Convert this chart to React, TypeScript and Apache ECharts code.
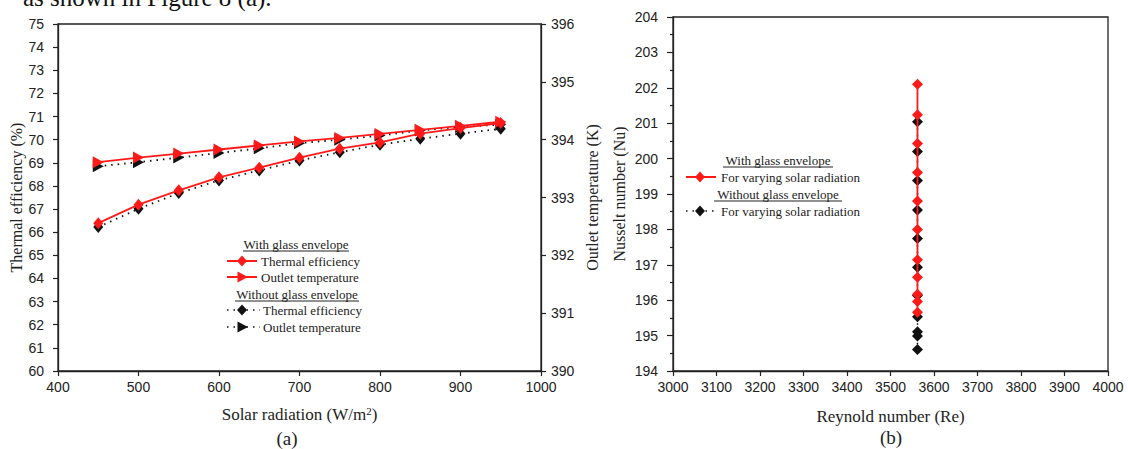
import React, { useEffect, useRef } from "react";
import * as echarts from "echarts";

// ---- data ----
const radiation = [450, 500, 550, 600, 650, 700, 750, 800, 850, 900, 950];
const effWith = [66.39, 67.19, 67.81, 68.37, 68.79, 69.22, 69.61, 69.88, 70.26, 70.5, 70.72];
const effWithout = [66.22, 67.01, 67.69, 68.24, 68.67, 69.1, 69.46, 69.78, 70.04, 70.26, 70.47];
const tempWith = [393.61, 393.69, 393.76, 393.83, 393.9, 393.97, 394.03, 394.1, 394.17, 394.24, 394.31];
const tempWithout = [393.54, 393.61, 393.69, 393.77, 393.85, 393.94, 394.0, 394.07, 394.16, 394.22, 394.26];
const reynoldsValue = 3562;
const nuWith = [202.1, 201.24, 200.43, 199.61, 198.8, 198.0, 197.14, 196.65, 196.17, 195.96, 195.66];
const nuWithout = [201.04, 200.2, 199.38, 198.55, 197.74, 196.93, 196.13, 195.53, 195.11, 194.99, 194.61];

const SERIF = "Liberation Serif";
const SANS = "Liberation Sans";
const RED = "#ff1a1a";
const BLACK = "#111";
const AX = "#222";

function diamond(x: number, y: number, fill: string) {
  return {
    type: "polygon",
    shape: { points: [[x, y - 5.5], [x + 5, y], [x, y + 5.5], [x - 5, y]] },
    style: { fill },
    z: 10,
  };
}
function triRight(x: number, y: number, fill: string) {
  return {
    type: "polygon",
    shape: { points: [[x - 4.5, y - 5.5], [x + 6, y], [x - 4.5, y + 5.5]] },
    style: { fill },
    z: 10,
  };
}
function lineEl(x1: number, x2: number, y: number, color: string, dotted: boolean) {
  return {
    type: "line",
    shape: { x1, y1: y, x2, y2: y },
    style: { stroke: color, lineWidth: dotted ? 1.5 : 2, lineDash: dotted ? [1.5, 5] : null },
    z: 9,
  };
}
function txt(text: string, x: number, y: number, align: string, size = 13) {
  return {
    type: "text",
    x,
    y,
    style: { text, fontSize: size, fontFamily: SERIF, fill: "#222", align, verticalAlign: "middle" },
    z: 10,
  };
}
function heading(text: string, cx: number, y: number, x1: number, x2: number) {
  return [
    txt(text, cx, y, "center"),
    { type: "line", shape: { x1, y1: y + 7, x2, y2: y + 7 }, style: { stroke: "#222", lineWidth: 1 }, z: 10 },
  ];
}

const plain = (v: number) => String(v);

function valueAxisBase(extra: any) {
  return {
    type: "value",
    axisLine: { show: true, onZero: false, lineStyle: { color: AX, width: 1.3 } },
    axisTick: { show: true, inside: false, length: 5, lineStyle: { color: AX, width: 1.2 } },
    splitLine: { show: false },
    ...extra,
  };
}

export default function App() {
  const ref = useRef<HTMLDivElement>(null);
  useEffect(() => {
    if (!ref.current) return;
    const chart = echarts.init(ref.current, undefined, { renderer: "svg" });
    const pairs = (xs: number[], ys: number[]) => xs.map((x, i) => [x, ys[i]]);
    const reSeries = (ys: number[]) => ys.map((y) => [reynoldsValue, y]);
    const lbl = (margin: number) => ({ color: "#222", fontFamily: SANS, fontSize: 14, margin, formatter: plain });

    const option: any = {
      animation: false,
      backgroundColor: "#ffffff",
      grid: [
        { left: 58, top: 24, width: 483, height: 347, show: true, borderColor: AX, borderWidth: 1.3, backgroundColor: "transparent" },
        { left: 673, top: 17, width: 435, height: 354, show: true, borderColor: AX, borderWidth: 1.3, backgroundColor: "transparent" },
      ],
      xAxis: [
        valueAxisBase({
          gridIndex: 0, min: 400, max: 1000, interval: 100,
          axisLabel: lbl(9),
          name: "Solar radiation (W/m{sup|2})",
          nameLocation: "middle", nameGap: 34,
          nameTextStyle: {
            fontFamily: SERIF, fontSize: 17, color: "#222",
            rich: { sup: { fontFamily: SERIF, fontSize: 11, verticalAlign: "top", padding: [0, 0, 8, 0], color: "#222" } },
          },
        }),
        valueAxisBase({
          gridIndex: 1, min: 3000, max: 4000, interval: 100,
          axisLabel: lbl(9),
          name: "Reynold number (Re)",
          nameLocation: "middle", nameGap: 37,
          nameTextStyle: { fontFamily: SERIF, fontSize: 17, color: "#222" },
        }),
      ],
      yAxis: [
        valueAxisBase({
          gridIndex: 0, min: 60, max: 75, interval: 1, position: "left",
          axisLabel: lbl(14),
          name: "Thermal efficiency (%)",
          nameLocation: "middle", nameGap: 33,
          nameTextStyle: { fontFamily: SERIF, fontSize: 16, color: "#222" },
        }),
        valueAxisBase({
          gridIndex: 0, min: 390, max: 396, interval: 1, position: "right",
          axisLabel: lbl(10),
          name: "Outlet temperature (K)",
          nameLocation: "middle", nameGap: 43, nameRotate: 90,
          nameTextStyle: { fontFamily: SERIF, fontSize: 16, color: "#222" },
        }),
        valueAxisBase({
          gridIndex: 1, min: 194, max: 204, interval: 1, position: "left",
          axisTick: { show: true, inside: false, length: 6, lineStyle: { color: AX, width: 1.2 } },
          minorTick: { show: true, splitNumber: 2, length: 3, lineStyle: { color: AX, width: 1.2 } },
          axisLabel: lbl(15),
          name: "Nusselt number (Nu)",
          nameLocation: "middle", nameGap: 46,
          nameTextStyle: { fontFamily: SERIF, fontSize: 16, color: "#222" },
        }),
      ],
      series: [
        {
          type: "line", xAxisIndex: 0, yAxisIndex: 0, data: pairs(radiation, effWithout),
          symbol: "diamond", symbolSize: [10, 12],
          itemStyle: { color: BLACK }, lineStyle: { color: BLACK, width: 1.8, type: [1.5, 5] }, z: 2,
        },
        {
          type: "line", xAxisIndex: 0, yAxisIndex: 1, data: pairs(radiation, tempWithout),
          symbol: "triangle", symbolRotate: -90, symbolSize: [12, 11],
          itemStyle: { color: BLACK }, lineStyle: { color: BLACK, width: 1.8, type: [1.5, 5] }, z: 2,
        },
        {
          type: "line", xAxisIndex: 0, yAxisIndex: 0, data: pairs(radiation, effWith),
          symbol: "diamond", symbolSize: [10, 12],
          itemStyle: { color: RED }, lineStyle: { color: RED, width: 1.8 }, z: 3,
        },
        {
          type: "line", xAxisIndex: 0, yAxisIndex: 1, data: pairs(radiation, tempWith),
          symbol: "triangle", symbolRotate: -90, symbolSize: [12, 11],
          itemStyle: { color: RED }, lineStyle: { color: RED, width: 1.8 }, z: 3,
        },
        {
          type: "line", xAxisIndex: 1, yAxisIndex: 2, data: reSeries(nuWithout),
          symbol: "diamond", symbolSize: [11, 11],
          itemStyle: { color: BLACK }, lineStyle: { color: BLACK, width: 1.5, type: [1.5, 5] }, z: 2,
        },
        {
          type: "line", xAxisIndex: 1, yAxisIndex: 2, data: reSeries(nuWith),
          symbol: "diamond", symbolSize: [11, 11],
          itemStyle: { color: RED }, lineStyle: { color: RED, width: 1.8 }, z: 3,
        },
      ],
      graphic: [
        {
          type: "text", x: 23, y: -3,
          style: { text: "as shown in Figure 8 (a).", fontSize: 25, fontFamily: SERIF, fill: "#111", align: "left", verticalAlign: "middle" },
        },
        // left legend
        ...heading("With glass envelope", 296, 244, 243, 349),
        lineEl(227, 257, 261, RED, false), diamond(242, 261, RED), txt("Thermal efficiency", 261, 261, "left"),
        lineEl(227, 257, 277, RED, false), triRight(242, 277, RED), txt("Outlet temperature", 261, 277, "left"),
        ...heading("Without glass envelope", 297, 294, 235, 359),
        lineEl(227, 260, 310, BLACK, true), diamond(242, 310, BLACK), txt("Thermal efficiency", 263, 310, "left"),
        lineEl(227, 260, 327, BLACK, true), triRight(242, 327, BLACK), txt("Outlet temperature", 263, 327, "left"),
        // right legend
        ...heading("With glass envelope", 778, 160, 723, 833),
        lineEl(686, 716, 177, RED, false), diamond(700, 177, RED), txt("For varying solar radiation", 721, 177, "left"),
        ...heading("Without glass envelope", 778, 194, 714, 842),
        lineEl(686, 718, 211, BLACK, true), diamond(700, 211, BLACK), txt("For varying solar radiation", 721, 211, "left"),
        // captions
        txt("(a)", 287, 438, "center", 19),
        txt("(b)", 891, 437, "center", 19),
      ],
    };
    chart.setOption(option);
    return () => chart.dispose();
  }, []);
  return (
    <div
      ref={ref}
      style={{ position: "absolute", left: 0, top: 0, width: 1128, height: 449 }}
    />
  );
}
